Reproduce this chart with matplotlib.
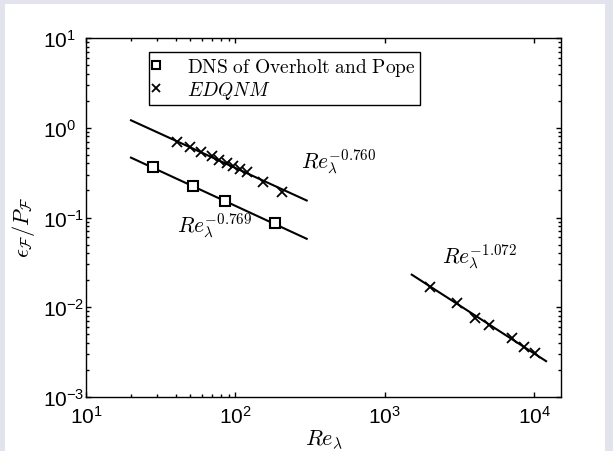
import numpy as np
import matplotlib
matplotlib.use("Agg")
import matplotlib.pyplot as plt
from matplotlib.patches import Rectangle
from matplotlib.ticker import FixedLocator, LogLocator, NullFormatter, LogFormatterMathtext

# ---- data ----
dns_re = [27.9, 52.2, 84.7, 185.0]
dns_ratio = [0.368, 0.223, 0.153, 0.0869]

edqnm_low_re = [40.5, 49.7, 58.9, 69.4, 78.0, 87.4, 96.8, 107.4, 119.0, 153.8, 204.0]
edqnm_low_ratio = [0.70, 0.605, 0.541, 0.481, 0.437, 0.405, 0.372, 0.347, 0.319, 0.251, 0.194]

edqnm_high_re = [2004, 3027, 4034, 5005, 7063, 8544, 10070]
edqnm_high_ratio = [0.01694, 0.01106, 0.00754, 0.00634, 0.00451, 0.00364, 0.00307]

# power-law fits: (coefficient, exponent, Re range)
fit_edqnm_low = (11.8, -0.760, (20, 300))
fit_dns = (4.65, -0.769, (20, 300))
fit_edqnm_high = (59.2, -1.072, (1514, 12000))

plt.rcParams['font.family'] = ['Liberation Sans', 'DejaVu Sans']
plt.rcParams['mathtext.fontset'] = 'custom'
plt.rcParams['mathtext.rm'] = 'Liberation Sans'
plt.rcParams['mathtext.it'] = 'Liberation Sans:italic'
plt.rcParams['mathtext.bf'] = 'Liberation Sans:bold'

W, H = 613, 452
fig = plt.figure(figsize=(W / 100, H / 100), dpi=100, facecolor='#e3e3ee')
fig.patches.append(Rectangle((5 / W, 0), 600 / W, 447 / H, transform=fig.transFigure,
                             facecolor='white', edgecolor='none', zorder=-10))

ax = fig.add_axes([86 / W, (H - 398) / H, (561 - 86) / W, (398 - 39) / H])
ax.set_xscale('log')
ax.set_yscale('log')
ax.set_xlim(10, 10 ** 4.179)
ax.set_ylim(1e-3, 10)

for (c, p, (a, b)) in (fit_edqnm_low, fit_dns, fit_edqnm_high):
    xr = np.array([a, b], dtype=float)
    ax.plot(xr, c * xr ** p, color='black', lw=1.5, zorder=2)

ax.plot(dns_re, dns_ratio, linestyle='none', marker='s', ms=7, mfc='white',
        mec='black', mew=1.5, label=r'$\mathrm{DNS\ of\ Overholt\ and\ Pope}$', zorder=3)
ax.plot(edqnm_low_re + edqnm_high_re, edqnm_low_ratio + edqnm_high_ratio, linestyle='none',
        marker='x', ms=7, mec='black', mew=1.3, label=r'$EDQNM$', zorder=3)

# annotations
ann_kw = dict(fontsize=15.5, math_fontfamily='cm', va='baseline', ha='left')
ax.text(275, 0.356, r'$Re_{\lambda}^{-0.760}$', **ann_kw)
ax.text(40.4, 0.0689, r'$Re_{\lambda}^{-0.769}$', **ann_kw)
ax.text(2404, 0.0311, r'$Re_{\lambda}^{-1.072}$', **ann_kw)

leg = ax.legend(loc='upper left', bbox_to_anchor=(63 / 475, (398 - 53) / 359),
                borderaxespad=0, fancybox=False, framealpha=1, edgecolor='black',
                prop={'size': 14, 'math_fontfamily': 'cm'}, handlelength=0.3,
                handletextpad=1.45, borderpad=0.2, labelspacing=0.06, markerscale=0.9)
leg.get_frame().set_linewidth(1.0)

# axes labels
ax.set_xlabel(r'$Re_{\lambda}$', fontsize=16, math_fontfamily='cm', labelpad=0)
ylab = ax.set_ylabel(r'$\epsilon_{\mathcal{F}}/P_{\mathcal{F}}$', fontsize=16, math_fontfamily='cm')
ylab.set_rotation_mode('default')
ylab.set_ha('right')
ylab.set_va('center')
ax.yaxis.set_label_coords((37 - 86) / 475, (398 - 227) / 359)

# ticks
ax.xaxis.set_major_locator(FixedLocator([10, 100, 1000, 10000]))
ax.xaxis.set_minor_locator(FixedLocator([20, 30, 40, 50, 60, 70, 80, 90]))
ax.xaxis.set_major_formatter(LogFormatterMathtext())
ax.xaxis.set_minor_formatter(NullFormatter())
ax.yaxis.set_major_locator(FixedLocator([1e-3, 1e-2, 1e-1, 1, 10]))
ax.yaxis.set_minor_locator(LogLocator(base=10, subs=np.arange(2, 10), numticks=20))
ax.yaxis.set_minor_formatter(NullFormatter())
ax.yaxis.set_major_formatter(LogFormatterMathtext())
ax.tick_params(which='both', direction='in', top=True, right=True, width=1.0)
ax.tick_params(which='major', length=3.5, labelsize=15)
ax.tick_params(axis='y', which='major', pad=31)
ax.tick_params(axis='x', which='major', pad=6)
ax.tick_params(which='minor', length=2)
plt.setp(ax.yaxis.get_majorticklabels(), ha='left')
for s in ax.spines.values():
    s.set_linewidth(1.0)

fig.savefig('out.png', dpi=100, facecolor=fig.get_facecolor())
